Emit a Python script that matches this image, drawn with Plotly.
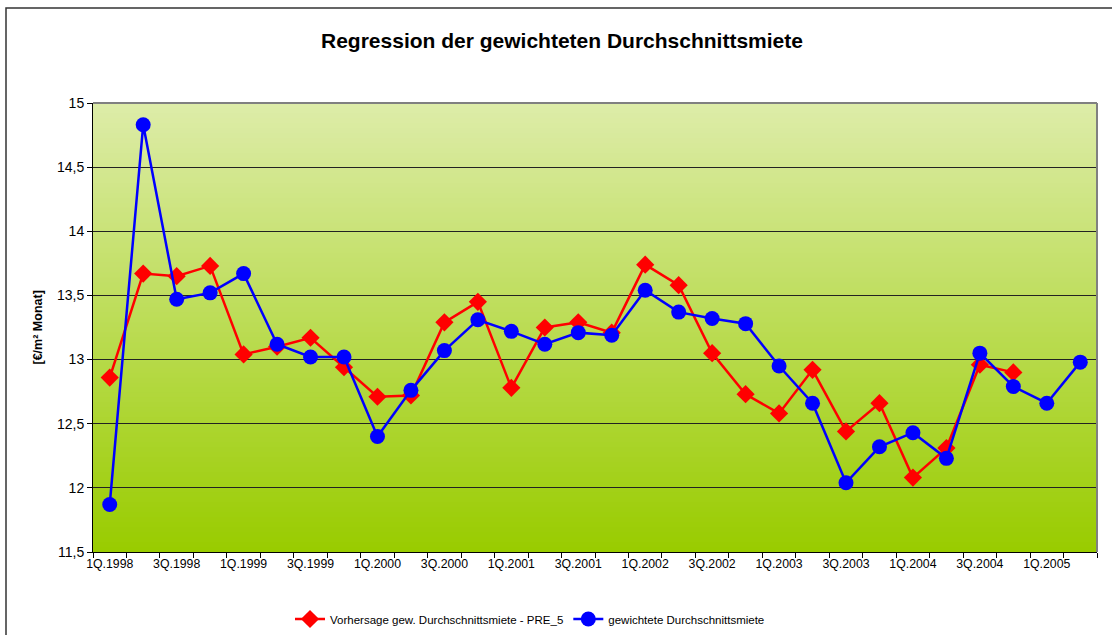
import plotly.graph_objects as go

# Quarter labels 1Q.1998 .. 2Q.2005
quarters = [f"{q}Q.{y}" for y in range(1998, 2006) for q in range(1, 5)][:30]

# Weighted average rent (EUR per m² and month)
gewichtete = [11.87, 14.83, 13.47, 13.52, 13.67, 13.12, 13.02, 13.02, 12.40, 12.76,
              13.07, 13.31, 13.22, 13.12, 13.21, 13.19, 13.54, 13.37, 13.32, 13.28,
              12.95, 12.66, 12.04, 12.32, 12.43, 12.23, 13.05, 12.79, 12.66, 12.98]

# Regression forecast PRE_5 (available through 4Q.2004)
vorhersage = [12.86, 13.67, 13.65, 13.73, 13.04, 13.10, 13.17, 12.94, 12.71, 12.72,
              13.29, 13.45, 12.78, 13.25, 13.29, 13.21, 13.74, 13.58, 13.05, 12.73,
              12.58, 12.92, 12.44, 12.66, 12.08, 12.31, 12.96, 12.90]

y_ticks = [11.5, 12, 12.5, 13, 13.5, 14, 14.5, 15]

x_idx = list(range(len(quarters)))
label_idx = x_idx[::2]

W, H = 1112, 635
L, R, T, B = 93, 15, 103, 83
plot_h = H - T - B
plot_w = W - L - R

fig = go.Figure()

fig.add_trace(go.Scatter(
    x=x_idx[:len(vorhersage)], y=vorhersage,
    mode="lines+markers",
    name="Vorhersage gew. Durchschnittsmiete - PRE_5",
    line=dict(color="#ff0000", width=2.5),
    marker=dict(symbol="diamond", size=14, color="#ff0000"),
))
fig.add_trace(go.Scatter(
    x=x_idx, y=gewichtete,
    mode="lines+markers",
    name="gewichtete Durchschnittsmiete",
    line=dict(color="#0000ff", width=2.5),
    marker=dict(symbol="circle", size=15, color="#0000ff"),
))

# Vertical gradient for the plot area: light green at the top, saturated at the bottom
shapes = []
n_bands = 90
top = (221, 236, 168)
bottom = (153, 204, 0)
for i in range(n_bands):
    t = i / (n_bands - 1)
    r = round(bottom[0] + (top[0] - bottom[0]) * t)
    g = round(bottom[1] + (top[1] - bottom[1]) * t)
    b = round(bottom[2] + (top[2] - bottom[2]) * t)
    shapes.append(dict(
        type="rect", xref="paper", yref="paper",
        x0=0, x1=1, y0=i / n_bands, y1=(i + 1) / n_bands + 0.002,
        fillcolor=f"rgb({r},{g},{b})", line=dict(width=0), layer="below",
    ))

# Gray frame on top and right of the plot area
shapes.append(dict(type="line", xref="paper", yref="paper", x0=0, x1=1, y0=1, y1=1,
                   line=dict(color="#808080", width=2)))
shapes.append(dict(type="line", xref="paper", yref="paper", x0=1, x1=1, y0=0, y1=1,
                   line=dict(color="#808080", width=2)))
# Outer chart border (left and top edges fall inside the page)
shapes.append(dict(type="rect", xref="paper", yref="paper",
                   x0=(6 - L) / plot_w, x1=1.2,
                   y0=-0.5, y1=(H - B - 8) / plot_h,
                   line=dict(color="#333333", width=1.5), fillcolor="rgba(0,0,0,0)",
                   layer="below"))

annotations = [dict(
    text="<b>[€/m² Monat]</b>", xref="paper", yref="paper",
    x=(37 - L) / plot_w, y=0.5, xanchor="center", yanchor="middle",
    textangle=-90, showarrow=False,
    font=dict(size=12.5, family="Liberation Sans, Arial, sans-serif", color="#000000"),
)]

fig.update_layout(
    width=W, height=H,
    margin=dict(l=L, r=R, t=T, b=B, autoexpand=False),
    paper_bgcolor="white",
    plot_bgcolor="rgba(0,0,0,0)",
    separators=",.",
    font=dict(family="Liberation Sans, Arial, sans-serif", color="#000000", size=12),
    title=dict(text="<b>Regression der gewichteten Durchschnittsmiete</b>",
               x=(562 - L) / plot_w, xref="paper", xanchor="center",
               y=1 - 41 / H, yanchor="middle",
               font=dict(size=21, family="Liberation Sans, Arial, sans-serif")),
    shapes=shapes,
    annotations=annotations,
    showlegend=True,
    legend=dict(orientation="h", x=(530 - L) / plot_w, xanchor="center",
                y=-(619 - (H - B)) / plot_h, yanchor="middle",
                font=dict(size=11.5), bgcolor="rgba(0,0,0,0)",
                tracegroupgap=0),
    xaxis=dict(
        range=[-0.5, len(quarters) - 0.5],
        tickmode="array", tickvals=label_idx,
        ticktext=[quarters[i] for i in label_idx],
        ticks="", showgrid=False, zeroline=False,
        showline=True, linecolor="#000000", linewidth=1,
        tickfont=dict(size=12.3),
        ticklabelstandoff=0,
        minor=dict(tickmode="linear", tick0=-0.5, dtick=1, ticks="outside",
                   ticklen=5, tickcolor="#000000", showgrid=False),
    ),
    yaxis=dict(
        range=[11.5, 15],
        tickmode="array", tickvals=y_ticks,
        ticktext=[f"{v:g}".replace(".", ",") for v in y_ticks],
        ticks="outside", ticklen=5, tickcolor="#000000",
        showgrid=True, gridcolor="#222222", gridwidth=1,
        zeroline=False, showline=True, linecolor="#000000", linewidth=1,
        tickfont=dict(size=14),
    ),
)

fig.write_html("out.html")
